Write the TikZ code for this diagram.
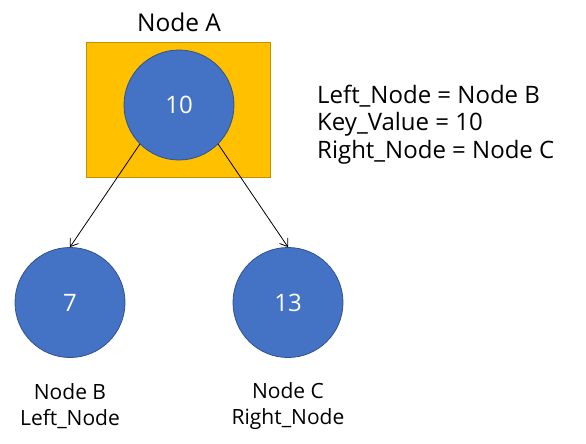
\documentclass[tikz,border=0pt]{standalone}
\usepackage{fontspec}
\setmainfont{Open Sans}
\usetikzlibrary{arrows.meta}
\definecolor{cblue}{HTML}{4472C4}
\definecolor{cbluedark}{HTML}{2F528F}
\definecolor{cyellow}{HTML}{FFC000}
\definecolor{cyellowdark}{HTML}{BF9000}
\begin{document}
\begin{tikzpicture}[x=1pt,y=-1pt,
  treenode/.style={circle,fill=cblue,draw=cbluedark,line width=0.8pt,minimum size=110pt,inner sep=0pt,text=white,font=\fontsize{24}{28}\selectfont},
  lbl/.style={font=\fontsize{24}{27.5}\selectfont,align=center,inner sep=0pt},
  sublbl/.style={font=\fontsize{21}{26}\selectfont,align=center,inner sep=0pt},
  link/.style={-{Straight Barb[length=7pt,width=10pt]},line width=0.8pt}]
\useasboundingbox (0,0) rectangle (586,444);
\node[draw=cyellowdark,fill=cyellow,line width=0.6pt,minimum width=184pt,minimum height=135pt,inner sep=0pt] (box) at (178,109.5) {};
\node[treenode] (a) at (179,105) {10};
\node[treenode] (b) at (70,302.5) {7};
\node[treenode] (c) at (288,302.5) {13};
\node[lbl,font=\fontsize{24.5}{28}\selectfont] (alabel) at (179,22) {Node A};
\node[sublbl] (blabel) at (70,406) {Node B\\Left\_Node};
\node[sublbl] (clabel) at (288,406) {Node C\\Right\_Node};
\node[lbl,align=left,anchor=west] (info) at (317,124.5) {Left\_Node = Node B\\Key\_Value = 10\\Right\_Node = Node C};
\draw[link] (a.-135) -- (b.north);
\draw[link] (a.-45) -- (c.north);
\end{tikzpicture}
\end{document}
